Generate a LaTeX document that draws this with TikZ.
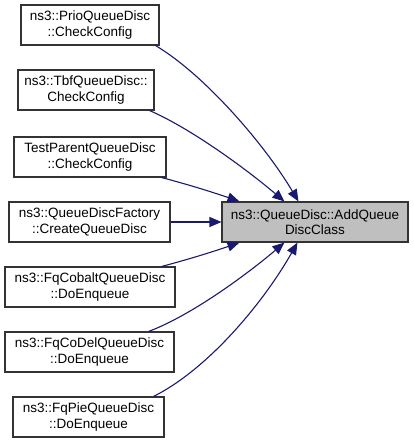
\documentclass[tikz,border=0pt]{standalone}
\usepackage{fontspec}
\setmainfont{Liberation Sans}
\usetikzlibrary{arrows.meta}
\definecolor{edgeblue}{HTML}{191970}
\definecolor{boxline}{HTML}{333333}
\begin{document}
\begin{tikzpicture}[x=1pt,y=-1pt,
  box/.style={draw=boxline,line width=1.1pt,fill=white,align=center,inner sep=0pt,
    font=\fontsize{13.5}{15.5}\selectfont,minimum height=40pt},
  conn/.style={draw=edgeblue,line width=1.1pt,-{Triangle[length=12pt,width=10pt]}}]
\useasboundingbox (0,0) rectangle (413,444);
\node[box,minimum width=138pt] (b1) at (90,25) {ns3::PrioQueueDisc\\::CheckConfig};
\node[box,minimum width=136pt] (b2) at (86,90) {ns3::TbfQueueDisc::\\CheckConfig};
\node[box,minimum width=152pt] (b3) at (90,157) {TestParentQueueDisc\\::CheckConfig};
\node[box,minimum width=161pt] (b4) at (89.5,222) {ns3::QueueDiscFactory\\::CreateQueueDisc};
\node[box,minimum width=170pt] (b5) at (90,287) {ns3::FqCobaltQueueDisc\\::DoEnqueue};
\node[box,minimum width=169pt] (b6) at (89.5,352) {ns3::FqCoDelQueueDisc\\::DoEnqueue};
\node[box,minimum width=151pt] (b7) at (88.5,417) {ns3::FqPieQueueDisc\\::DoEnqueue};
\node[box,minimum width=186pt,fill=black!25] (c) at (315,222) {ns3::QueueDisc::AddQueue\\DiscClass};
\draw[conn] ([xshift=-4pt]b1.south east) .. controls (205,75) and (265,145) .. ([xshift=77pt]c.north west);
\draw[conn] ([xshift=-5pt]b2.south east) .. controls (190,128) and (245,168) .. ([xshift=63pt]c.north west);
\draw[conn] ([xshift=-5pt]b3.south east) .. controls (190,185) and (215,193) .. ([xshift=18pt]c.north west);
\draw[conn] (b4.east) -- (c.west);
\draw[conn] ([xshift=-14pt]b5.north east) .. controls (190,259) and (215,251) .. ([xshift=18pt]c.south west);
\draw[conn] ([xshift=-26pt]b6.north east) .. controls (190,316) and (245,276) .. ([xshift=63pt]c.south west);
\draw[conn] ([xshift=-11pt]b7.north east) .. controls (210,368) and (265,300) .. ([xshift=76pt]c.south west);
\end{tikzpicture}
\end{document}
